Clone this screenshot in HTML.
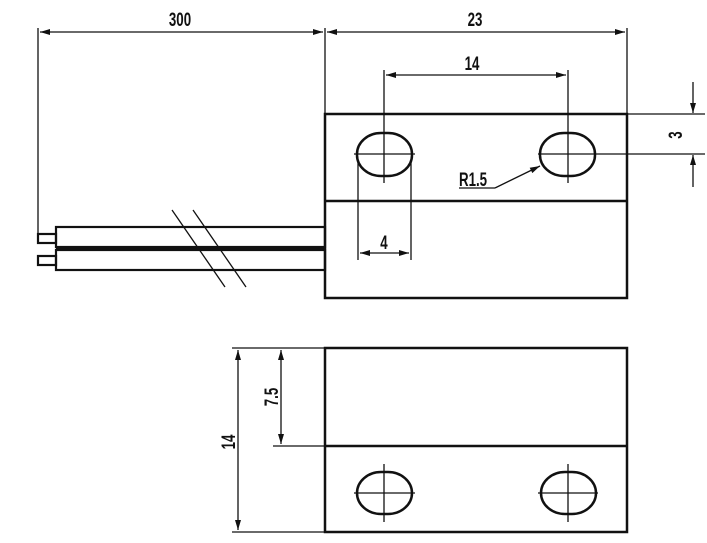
<!DOCTYPE html>
<html><head><style>html,body{margin:0;padding:0;background:#fff}svg{display:block}text{font-family:"Liberation Sans",sans-serif;font-weight:bold;fill:#111}</style></head>
<body>
<svg width="707" height="543" viewBox="0 0 707 543" xmlns="http://www.w3.org/2000/svg">
<defs>
<marker id="a" viewBox="0 0 10 6" refX="10" refY="3" markerWidth="11" markerHeight="6" orient="auto-start-reverse" markerUnits="userSpaceOnUse"><path d="M0,0L10,3L0,6z" fill="#111"/></marker>
</defs>
<g stroke="#111" fill="none">
<rect x="325" y="114" width="302" height="184" stroke-width="2.5"/>
<line x1="325" y1="201" x2="627" y2="201" stroke-width="2.5"/>
<rect x="357" y="133" width="55" height="43" rx="24" ry="21" stroke-width="2.5"/>
<rect x="540" y="133" width="55" height="43" rx="24" ry="21" stroke-width="2.5"/>
<g stroke-width="1.3">
<line x1="384" y1="70" x2="384" y2="183"/><line x1="354" y1="154" x2="415" y2="154"/>
<line x1="568" y1="70" x2="568" y2="183"/><line x1="538" y1="154" x2="705" y2="154"/>
<line x1="627" y1="114" x2="705" y2="114"/>
<line x1="358" y1="160" x2="358" y2="260"/><line x1="411" y1="160" x2="411" y2="260"/>
<line x1="38" y1="28" x2="38" y2="236"/><line x1="325" y1="28" x2="325" y2="114"/><line x1="627" y1="28" x2="627" y2="114"/>
<line x1="40" y1="32" x2="323" y2="32" marker-start="url(#a)" marker-end="url(#a)"/>
<line x1="327" y1="32" x2="625" y2="32" marker-start="url(#a)" marker-end="url(#a)"/>
<line x1="386" y1="75" x2="566" y2="75" marker-start="url(#a)" marker-end="url(#a)"/>
<line x1="360" y1="253" x2="409" y2="253" marker-start="url(#a)" marker-end="url(#a)"/>
<line x1="693" y1="82" x2="693" y2="113" marker-end="url(#a)"/>
<line x1="693" y1="187" x2="693" y2="155" marker-end="url(#a)"/>
<line x1="459" y1="188" x2="495" y2="188"/>
<line x1="495" y1="188" x2="540" y2="166" marker-end="url(#a)"/>
<line x1="172" y1="210" x2="225" y2="287"/><line x1="193" y1="210" x2="246" y2="287"/>
</g>
<g stroke-width="2.2">
<rect x="56" y="227" width="269" height="20"/>
<rect x="56" y="250" width="269" height="20"/>
<line x1="56" y1="248.5" x2="325" y2="248.5" stroke-width="2"/>
<rect x="38" y="234" width="18" height="9"/>
<rect x="38" y="256" width="18" height="9"/>
</g>
<rect x="325" y="348" width="302" height="184" stroke-width="2.5"/>
<line x1="325" y1="446" x2="627" y2="446" stroke-width="2.5"/>
<rect x="357" y="472" width="55" height="42" rx="24" ry="21" stroke-width="2.5"/>
<rect x="541" y="472" width="55" height="42" rx="24" ry="21" stroke-width="2.5"/>
<g stroke-width="1.3">
<line x1="384" y1="464" x2="384" y2="522"/><line x1="354" y1="493" x2="415" y2="493"/>
<line x1="568" y1="464" x2="568" y2="522"/><line x1="538" y1="493" x2="598" y2="493"/>
<line x1="232" y1="348" x2="325" y2="348"/><line x1="273" y1="446" x2="325" y2="446"/><line x1="232" y1="532" x2="325" y2="532"/>
<line x1="238" y1="350" x2="238" y2="530" marker-start="url(#a)" marker-end="url(#a)"/>
<line x1="281" y1="350" x2="281" y2="444" marker-start="url(#a)" marker-end="url(#a)"/>
</g>
</g>
<g font-size="19">
<text transform="translate(180,26) scale(0.7,1)" text-anchor="middle">300</text>
<text transform="translate(475,26) scale(0.7,1)" text-anchor="middle">23</text>
<text transform="translate(472,70) scale(0.7,1)" text-anchor="middle">14</text>
<text transform="translate(384,249) scale(0.7,1)" text-anchor="middle">4</text>
<text transform="translate(459,186) scale(0.7,1)">R1.5</text>
<text transform="translate(682,135) rotate(-90) scale(0.7,1)" text-anchor="middle">3</text>
<text transform="translate(235,442) rotate(-90) scale(0.7,1)" text-anchor="middle">14</text>
<text transform="translate(278,397) rotate(-90) scale(0.7,1)" text-anchor="middle">7.5</text>
</g>
</svg>
</body></html>
